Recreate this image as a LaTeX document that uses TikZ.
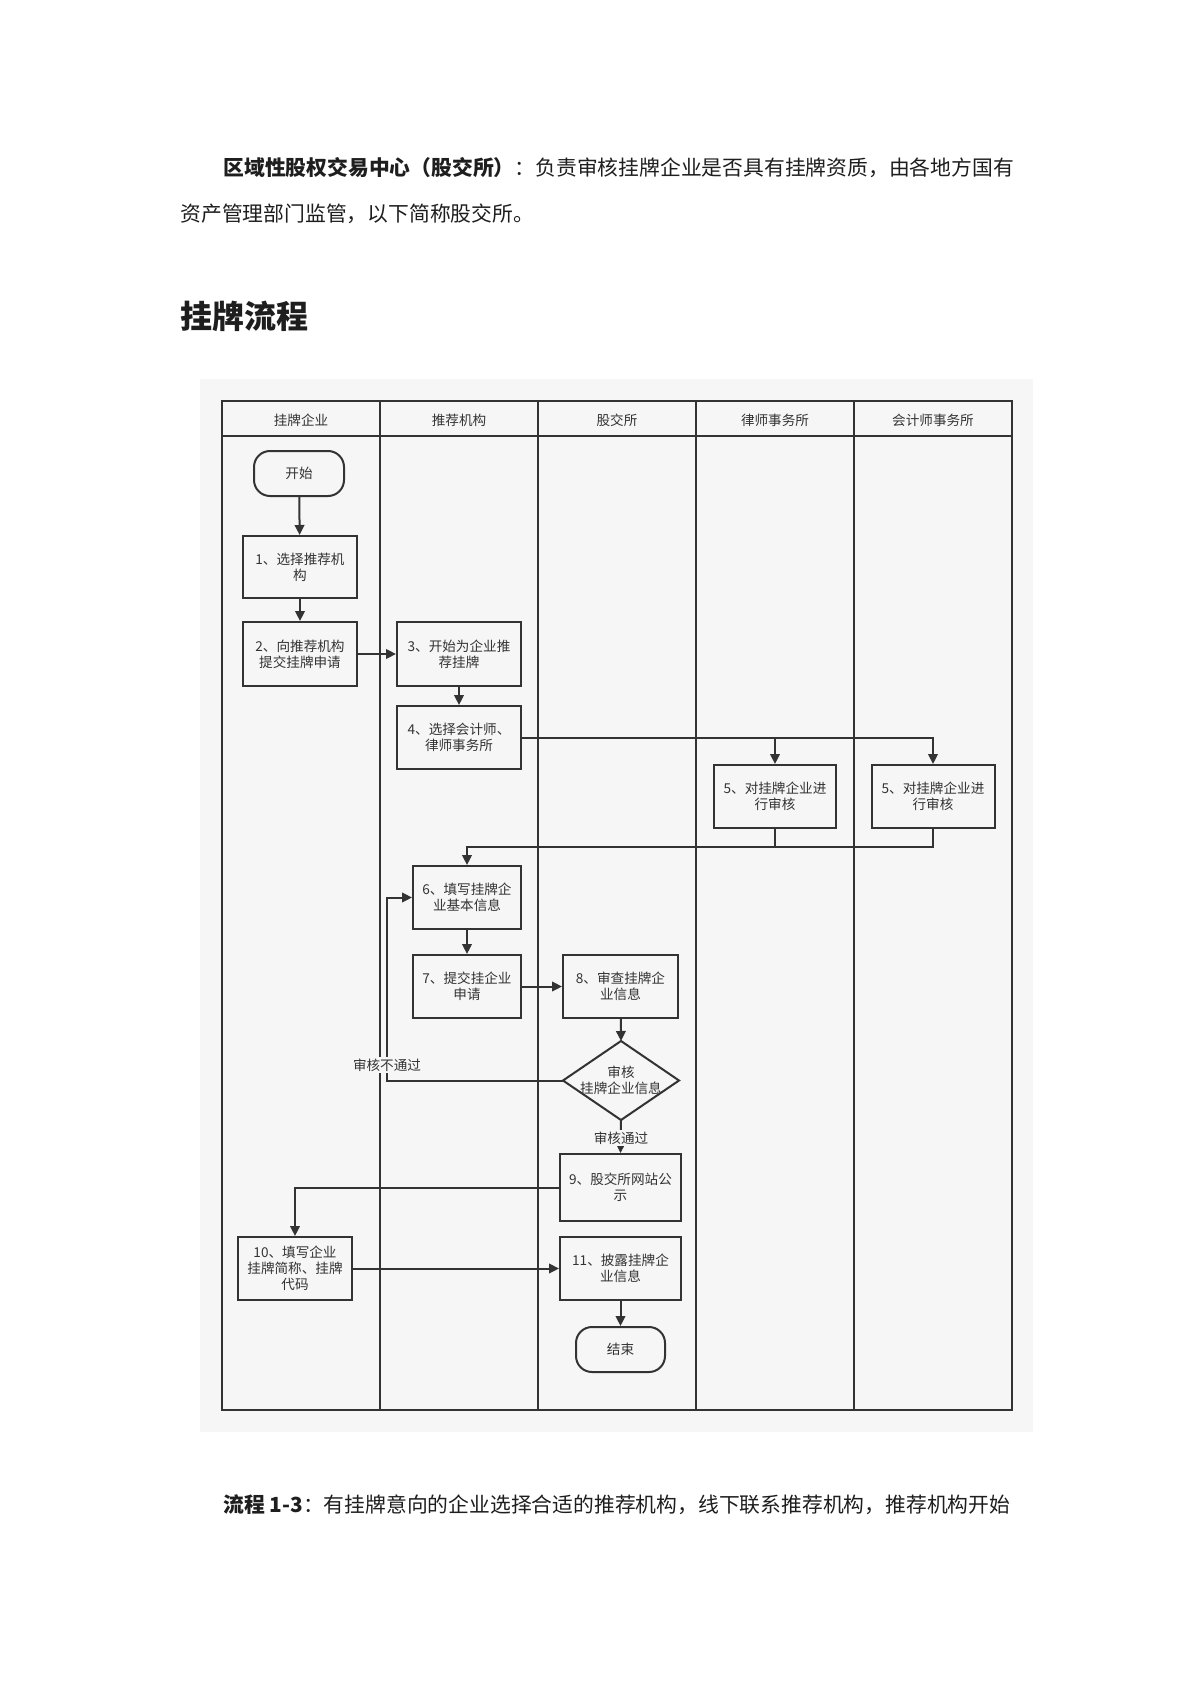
\documentclass[tikz,border=0pt]{standalone}
\usepackage{fontspec}
\setmainfont{Noto Sans CJK SC}
\usetikzlibrary{arrows.meta,calc}
\definecolor{bgc}{RGB}{246,246,246}
\definecolor{lnc}{RGB}{51,51,51}
\definecolor{txc}{RGB}{30,30,30}
\begin{document}
\begin{tikzpicture}[x=0.5pt,y=-0.5pt,
  box/.style={draw=lnc,line width=1pt,align=center,inner sep=0pt,text=lnc,font=\fontsize{6.8pt}{8pt}\selectfont},
  term/.style={box,rounded corners=8pt},
  arr/.style={draw=lnc,line width=1pt,-{Triangle[length=5pt,width=4.8pt]}},
  plain/.style={draw=lnc,line width=1pt},
  hdr/.style={text=lnc,font=\fontsize{6.8pt}{8pt}\selectfont},
  lbl/.style={text=lnc,font=\fontsize{6.8pt}{8pt}\selectfont,fill=bgc,inner sep=1pt},
  para/.style={anchor=west,inner sep=0pt,text=txc,font=\fontsize{10.4pt}{12pt}\selectfont}]
\useasboundingbox[fill=white] (0,0) rectangle (1191,1684);

% page text
\node[para] (p1) at (223,168) {\textbf{区域性股权交易中心（股交所）}：负责审核挂牌企业是否具有挂牌资质，由各地方国有};
\node[para] (p2) at (180,214) {资产管理部门监管，以下简称股交所。};
\node[para,font=\bfseries\fontsize{16pt}{18pt}\selectfont] (h1) at (180,316) {挂牌流程};
\node[para] (p3) at (223,1505) {\textbf{流程 1-3}：有挂牌意向的企业选择合适的推荐机构，线下联系推荐机构，推荐机构开始};

% background and lanes
\fill[bgc] (200,379) rectangle (1033,1432);
\draw[lnc,line width=0.9pt] (222,401) rectangle (1012,1410);
\draw[lnc,line width=0.9pt] (222,436) -- (1012,436);
\foreach \xx in {380,538,696,854} \draw[lnc,line width=0.9pt] (\xx,401) -- (\xx,1410);
\node[hdr] (h1c) at (301,420) {挂牌企业};
\node[hdr] (h2c) at (459,420) {推荐机构};
\node[hdr] (h3c) at (617,420) {股交所};
\node[hdr] (h4c) at (775,420) {律师事务所};
\node[hdr] (h5c) at (933,420) {会计师事务所};

% nodes
\node[term,minimum width=45pt,minimum height=22.5pt] (st) at (299,473.5) {开始};
\node[box,minimum width=57pt,minimum height=31pt] (b1) at (300,567) {1、选择推荐机\\构};
\node[box,minimum width=57pt,minimum height=32pt] (b2) at (300,654) {2、向推荐机构\\提交挂牌申请};
\node[box,minimum width=62pt,minimum height=32pt] (b3) at (459,654) {3、开始为企业推\\荐挂牌};
\node[box,minimum width=62pt,minimum height=31.5pt] (b4) at (459,737.5) {4、选择会计师、\\律师事务所};
\node[box,minimum width=61pt,minimum height=31.5pt] (b5a) at (775,796.5) {5、对挂牌企业进\\行审核};
\node[box,minimum width=61.5pt,minimum height=31.5pt] (b5b) at (933,796.5) {5、对挂牌企业进\\行审核};
\node[box,minimum width=54pt,minimum height=31.5pt] (b6) at (467,897.5) {6、填写挂牌企\\业基本信息};
\node[box,minimum width=54pt,minimum height=31.5pt] (b7) at (467,986.5) {7、提交挂企业\\申请};
\node[box,minimum width=57.5pt,minimum height=31.5pt] (b8) at (620.5,986.5) {8、审查挂牌企\\业信息};
\node[box,draw=none,minimum width=57pt,minimum height=38.5pt] (d) at (621,1080.5) {审核\\挂牌企业信息};
\draw[lnc,line width=1pt] (d.north) -- (d.east) -- (d.south) -- (d.west) -- cycle;
\node[box,minimum width=60.5pt,minimum height=33.5pt] (b9) at (620.5,1187.5) {9、股交所网站公\\示};
\node[box,minimum width=57pt,minimum height=31.5pt] (b10) at (295,1268.5) {10、填写企业\\挂牌简称、挂牌\\代码};
\node[box,minimum width=60.5pt,minimum height=31.5pt] (b11) at (620.5,1268.5) {11、披露挂牌企\\业信息};
\node[term,minimum width=44.5pt,minimum height=22.5pt] (en) at (620.5,1349.5) {结束};

% connectors
\draw[arr] (st) -- (b1);
\draw[arr] (b1) -- (b2);
\draw[arr] (b2) -- (b3);
\draw[arr] (b3) -- (b4);
\draw[arr] (b4.east) -| (b5b.north);
\draw[arr] (b4.east -| b5a.north) -- (b5a.north);
\coordinate (m) at (467,847);
\draw[arr] (b5b.south) |- (m) -- (b6.north);
\draw[plain] (b5a.south) -- (b5a.south |- m);
\draw[arr] (b6) -- (b7);
\draw[arr] (b7) -- (b8);
\draw[arr] (b8) -- (d.north);
\coordinate (r) at (387,1080.5);
\draw[arr] (d.west) -- (r) |- (b6.west);
\node[lbl] (l1) at (387,1065) {审核不通过};
\draw[arr] (d.south) -- (b9.north);
\node[lbl] (l2) at (621,1138) {审核通过};
\draw[arr] (b9.west) -| (b10.north);
\draw[arr] (b10.east) -- (b11.west);
\draw[arr] (b11) -- (en);
\end{tikzpicture}
\end{document}
